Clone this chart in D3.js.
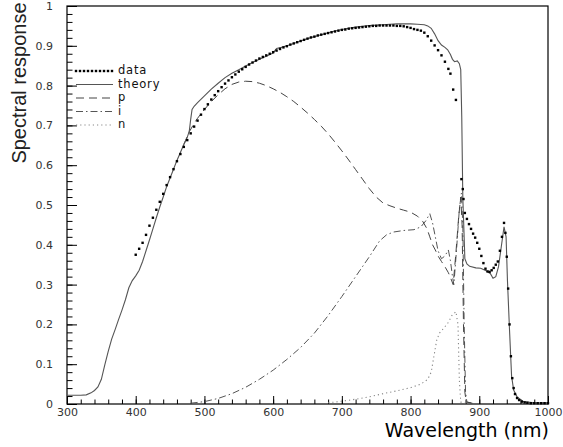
<!DOCTYPE html>
<html>
<head>
<meta charset="utf-8">
<script src="https://cdn.jsdelivr.net/npm/d3@7"></script>
<style>
body { margin: 0; background: #fff; }
.axis text { font-family: "DejaVu Sans", sans-serif; font-size: 11px; fill: #333; }
.axis line { stroke: #000; }
.axis path { display: none; }
</style>
</head>
<body>
<div id="chart"></div>
<script>
// measured spectral response (dots)
var dataWl = [400,405,410,415,420,425,430,435,440,445,450,455,460,465,470,475,480,485,490,495,
    500,505,510,515,520,525,530,535,540,545,550,555,560,565,570,575,580,585,590,595,
    600,605,610,615,620,625,630,635,640,645,650,655,660,665,670,675,680,685,690,695,
    700,705,710,715,720,725,730,735,740,745,750,755,760,765,770,775,780,785,790,795,
    800,805,810,815,820,825,830,835,840,845,850,855,858,862,866,874,876,877,879,882,
    885,888,891,894,897,900,903,906,909,912,915,918,921,924,927,930,933,936,938,940,
    942,944,946,948,950,952,955,958,962,966,970,975,980,985,990,995,1000];
var dataVal = [.375,.39,.405,.425,.448,.468,.488,.508,.528,.55,.57,.59,.61,.628,.646,.663,.68,.697,.712,.727,
    .741,.753,.765,.776,.786,.796,.805,.813,.821,.828,.835,.841,.847,.853,.858,.863,.868,.872,.876,.880,
    .884,.888,.892,.896,.899,.903,.906,.909,.912,.915,.918,.921,.923,.926,.928,.930,.932,.934,.936,.938,
    .940,.941,.943,.944,.945,.946,.947,.948,.949,.950,.950,.951,.951,.951,.951,.951,.950,.950,.949,.947,
    .945,.942,.940,.938,.933,.924,.913,.901,.889,.876,.860,.842,.830,.790,.764,.565,.540,.515,.480,.465,
    .452,.440,.428,.418,.405,.390,.372,.354,.340,.333,.332,.336,.342,.350,.358,.385,.420,.455,.430,.370,
    .290,.200,.120,.065,.040,.025,.015,.010,.006,.004,.003,.002,.002,.002,.002,.002,.002];

// theory = p + i + n
var theoryWl = [300,320,328,335,340,345,350,355,360,365,370,375,380,385,390,395,400,405,410,415,
    420,425,430,435,440,445,450,455,460,465,470,475,478,480,482,485,490,500,510,520,
    530,540,550,560,570,580,590,600,605,612,620,630,640,650,660,670,680,690,700,710,
    720,730,740,750,760,770,780,790,800,810,820,825,830,835,840,845,850,854,858,861,
    864,868,871,873,874.5,876,877,879,882,886,895,902,910,916,920,924,928,932,936,939,
    941,944,947,950,955,964,980,1000];
var theoryVal = [.022,.022,.023,.028,.034,.043,.062,.098,.132,.163,.187,.212,.236,.262,.292,.31,.322,.336,.358,.385,
    .412,.44,.468,.495,.52,.546,.568,.59,.612,.632,.652,.67,.686,.715,.74,.748,.757,.774,.791,.806,
    .82,.831,.84,.849,.858,.866,.874,.882,.893,.896,.9,.906,.912,.918,.923,.928,.933,.937,.941,.944,
    .947,.949,.951,.952,.953,.954,.955,.955,.955,.954,.953,.95,.944,.93,.913,.902,.896,.89,.878,.866,
    .86,.862,.855,.84,.72,.52,.47,.365,.352,.346,.342,.341,.335,.328,.316,.32,.345,.395,.445,.42,
    .31,.186,.07,.035,.018,.006,.003,.003];

var pWl = [470,478,485,490,500,510,520,530,540,550,560,570,580,590,600,610,620,630,640,650,
    660,670,680,690,700,710,720,730,740,750,760,770,780,790,800,810,818,824,828,832,
    836,840,845,850,855,858,862,866,870,873,875,877,879,881,890];
var pVal = [.652,.684,.705,.718,.74,.76,.777,.792,.803,.809,.811,.81,.806,.8,.792,.783,.772,.76,.746,.731,
    .715,.698,.679,.658,.636,.613,.589,.565,.541,.52,.505,.498,.492,.487,.482,.472,.458,.44,.42,.4,
    .387,.372,.358,.345,.33,.318,.3,.38,.47,.52,.45,.2,.03,.005,.002];

var iWl = [480,500,520,540,560,580,600,620,640,660,680,700,720,740,755,765,775,790,805,815,
    822,828,832,836,840,845,850,855,858,861,863,867,871,874,876,878,880,882,890];
var iVal = [.002,.006,.014,.026,.042,.062,.085,.112,.142,.178,.222,.27,.32,.37,.41,.425,.432,.436,.438,.445,
    .46,.478,.455,.42,.385,.365,.372,.387,.36,.32,.3,.39,.49,.53,.45,.2,.03,.005,.002];

var nWl = [680,700,720,740,760,780,800,815,825,830,834,838,842,848,855,860,866,869,871,873,880];
var nVal = [.003,.007,.012,.018,.026,.033,.041,.05,.062,.08,.12,.16,.178,.19,.205,.222,.232,.2,.06,.005,.002];

var xMajor = [300,400,500,600,700,800,900,1000];
var yMajor = [0,0.1,0.2,0.3,0.4,0.5,0.6,0.7,0.8,0.9,1];
var yLabels = ["0","0.1","0.2","0.3","0.4","0.5","0.6","0.7","0.8","0.9","1"];

var legendNames = ["data","theory","p","i","n"];

var margin = {top: 6, right: 15, bottom: 43, left: 67},
    width = 563 - margin.left - margin.right,
    height = 447 - margin.top - margin.bottom;

function zip(wl, val) {
    return wl.map(function(w, k) { return {x: w, y: val[k]}; });
}

var x = d3.scaleLinear().domain([300, 1000]).range([0, width]);
var y = d3.scaleLinear().domain([0, 1]).range([height, 0]);

var svg = d3.select("#chart").append("svg")
    .attr("width", 563)
    .attr("height", 447);

var chart = svg.append("g")
    .attr("transform", "translate(" + margin.left + "," + margin.top + ")");

// minor ticks
chart.append("g")
    .attr("class", "axis")
    .attr("transform", "translate(0," + height + ")")
    .call(d3.axisBottom(x).tickValues(d3.range(300, 1001, 20)).tickSize(-4.5).tickFormat(""));
chart.append("g")
    .attr("class", "axis")
    .call(d3.axisLeft(y).tickValues(d3.range(0, 1.001, 0.02)).tickSize(-5.5).tickFormat(""));

// major ticks
chart.append("g")
    .attr("class", "axis")
    .attr("transform", "translate(0," + height + ")")
    .call(d3.axisBottom(x).tickValues(xMajor).tickSize(-8).tickPadding(4).tickFormat(d3.format("d")));
chart.append("g")
    .attr("class", "axis")
    .call(d3.axisLeft(y).tickValues(yMajor).tickSize(-10).tickPadding(14)
        .tickFormat(function(d, k) { return yLabels[k]; }));

// frame
chart.append("rect")
    .attr("x", 0).attr("y", 0)
    .attr("width", width).attr("height", height)
    .attr("fill", "none")
    .attr("stroke", "#000")
    .attr("stroke-width", 1.2);

var line = d3.line()
    .x(function(d) { return x(d.x); })
    .y(function(d) { return y(d.y); });

var styles = {
    theory: {stroke: "#555", dash: null, w: 1.1},
    p: {stroke: "#444", dash: "8,5", w: 1},
    i: {stroke: "#555", dash: "7,3,1.5,3", w: 1},
    n: {stroke: "#888", dash: "1.2,3", w: 1.1}
};

var series = [
    {key: "n", values: zip(nWl, nVal)},
    {key: "i", values: zip(iWl, iVal)},
    {key: "p", values: zip(pWl, pVal)},
    {key: "theory", values: zip(theoryWl, theoryVal)}
];

chart.selectAll(".curve")
    .data(series)
    .enter().append("path")
    .attr("class", "curve")
    .attr("fill", "none")
    .attr("stroke", function(d) { return styles[d.key].stroke; })
    .attr("stroke-width", function(d) { return styles[d.key].w; })
    .attr("stroke-dasharray", function(d) { return styles[d.key].dash; })
    .attr("d", function(d) { return line(d.values); });

chart.selectAll(".dot")
    .data(zip(dataWl, dataVal))
    .enter().append("rect")
    .attr("class", "dot")
    .attr("x", function(d) { return x(d.x) - 1.2; })
    .attr("y", function(d) { return y(d.y) - 1.2; })
    .attr("width", 2.4)
    .attr("height", 2.4)
    .attr("fill", "#000");

// legend
var legend = svg.append("g").attr("transform", "translate(76,71)");
legendNames.forEach(function(name, k) {
    var g = legend.append("g").attr("transform", "translate(0," + (k * 13.5) + ")");
    if (name === "data") {
        g.selectAll("rect")
            .data(d3.range(0, 38, 4))
            .enter().append("rect")
            .attr("x", function(d) { return d - 1.2; })
            .attr("y", -1.2)
            .attr("width", 2.4).attr("height", 2.4)
            .attr("fill", "#000");
    } else {
        var s = styles[name];
        g.append("line")
            .attr("x1", 0).attr("x2", 37)
            .attr("stroke", s.stroke)
            .attr("stroke-width", s.w)
            .attr("stroke-dasharray", s.dash);
    }
    g.append("text")
        .attr("x", 42)
        .attr("y", 0)
        .attr("dy", "0.3em")
        .style("font-family", "'DejaVu Sans', sans-serif")
        .style("font-size", "11.5px")
        .style("letter-spacing", "0.8px")
        .style("fill", "#111")
        .text(name);
});

// axis titles
svg.append("text")
    .attr("transform", "rotate(-90)")
    .attr("x", -83)
    .attr("y", 26)
    .style("text-anchor", "middle")
    .style("font-family", "'Liberation Sans', Arial, sans-serif")
    .style("font-size", "20px")
    .style("fill", "#222")
    .text("Spectral response");

svg.append("text")
    .attr("x", 549)
    .attr("y", 437)
    .style("text-anchor", "end")
    .style("font-family", "'DejaVu Sans', sans-serif")
    .style("font-size", "19px")
    .style("fill", "#000")
    .text("Wavelength (nm)");
</script>
</body>
</html>
